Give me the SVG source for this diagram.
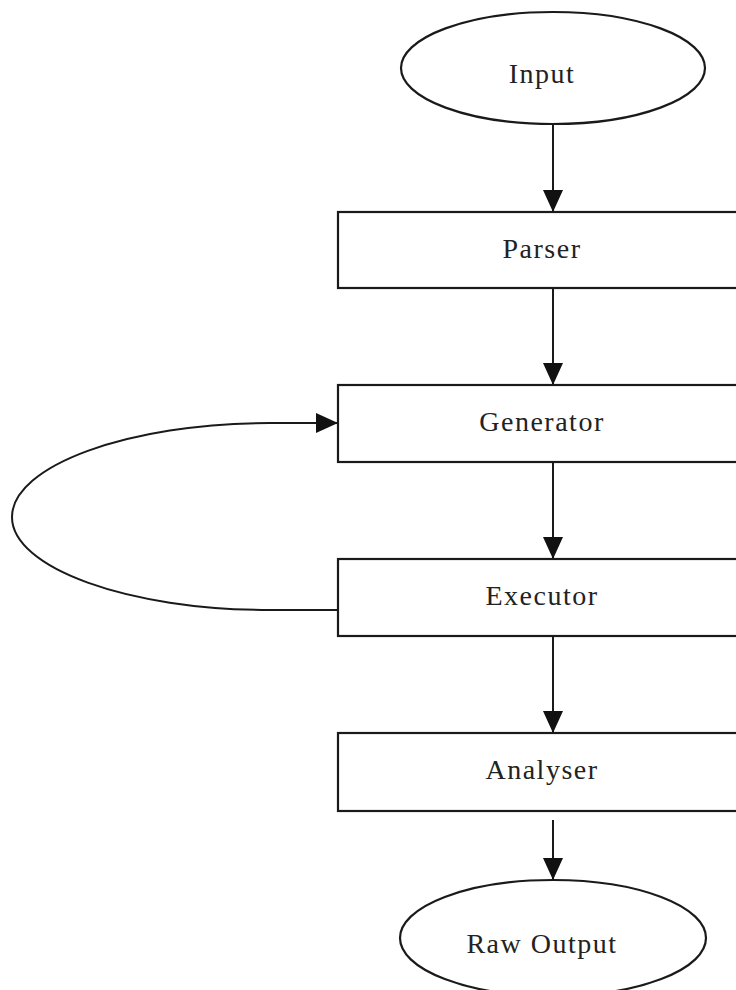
<svg xmlns="http://www.w3.org/2000/svg" width="736" height="990" viewBox="0 0 736 990">
  <style>
    .shape { fill: #ffffff; stroke: #1a1a1a; stroke-width: 2.2; }
    .label { font-family: "Liberation Serif", "Times New Roman", serif; font-size: 28px; letter-spacing: 1.5px; fill: #222222; text-anchor: middle; }
    .edge { fill: none; stroke: #1a1a1a; stroke-width: 2; }
  </style>
  <defs>
    <marker id="arrow" markerUnits="userSpaceOnUse" markerWidth="24" markerHeight="22" refX="22" refY="10" orient="auto">
      <polygon points="0,0 22,10 0,20" fill="#111111"/>
    </marker>
  </defs>
  <rect width="736" height="990" fill="#ffffff"/>

  <g id="connectors">
    <line class="edge" x1="553" y1="115" x2="553" y2="212" marker-end="url(#arrow)"/>
    <line class="edge" x1="553" y1="288" x2="553" y2="385" marker-end="url(#arrow)"/>
    <line class="edge" x1="553" y1="462" x2="553" y2="559" marker-end="url(#arrow)"/>
    <line class="edge" x1="553" y1="636" x2="553" y2="733" marker-end="url(#arrow)"/>
    <line class="edge" x1="553" y1="820" x2="553" y2="880" marker-end="url(#arrow)"/>
    <path class="edge" d="M338,610 L270,610 C128,610 12,568 12,517 C12,466 128,423 270,423 L338,423" marker-end="url(#arrow)"/>
  </g>

  <g id="node-input">
    <ellipse class="shape" cx="553" cy="68" rx="152" ry="56"/>
    <text class="label" x="542" y="83">Input</text>
  </g>
  <g id="node-parser">
    <rect class="shape" x="338" y="212" width="420" height="76"/>
    <text class="label" x="542" y="258">Parser</text>
  </g>
  <g id="node-generator">
    <rect class="shape" x="338" y="385" width="420" height="77"/>
    <text class="label" x="542" y="431">Generator</text>
  </g>
  <g id="node-executor">
    <rect class="shape" x="338" y="559" width="420" height="77"/>
    <text class="label" x="542" y="605">Executor</text>
  </g>
  <g id="node-analyser">
    <rect class="shape" x="338" y="733" width="420" height="78"/>
    <text class="label" x="542" y="779">Analyser</text>
  </g>
  <g id="node-raw-output">
    <ellipse class="shape" cx="553" cy="938" rx="153" ry="58"/>
    <text class="label" x="542" y="953">Raw Output</text>
  </g>
</svg>
